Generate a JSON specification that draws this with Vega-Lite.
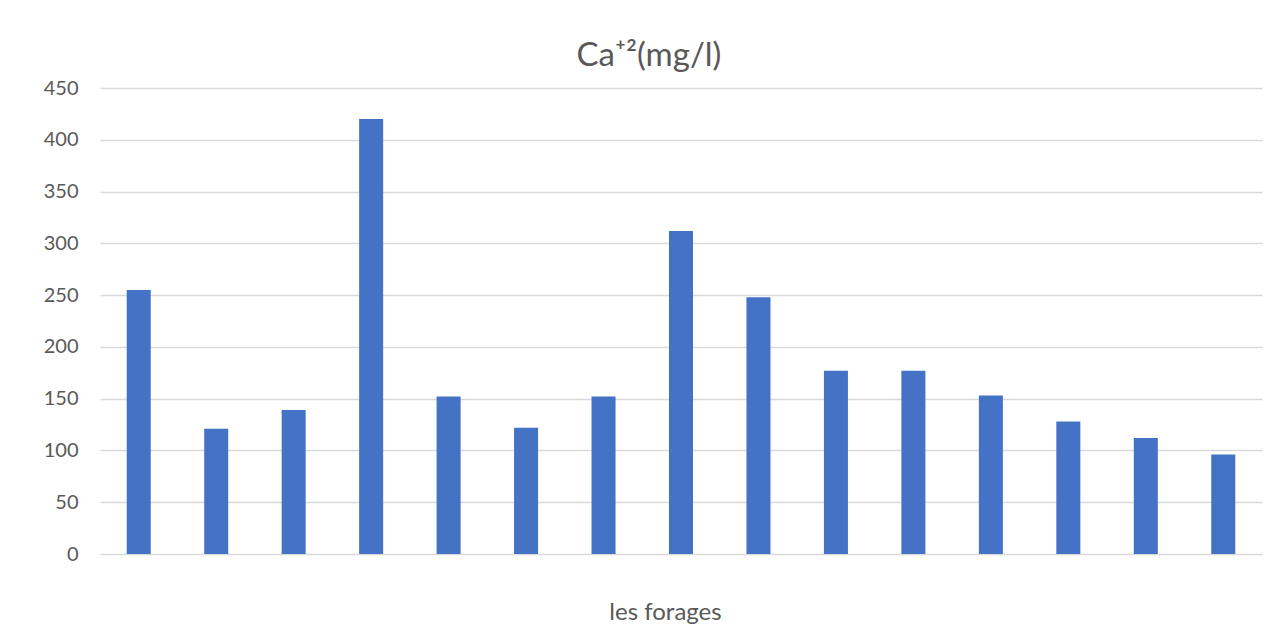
{
  "$schema": "https://vega.github.io/schema/vega-lite/v6.json",
  "autosize": {"type": "none"},
  "width": 1162,
  "height": 466,
  "padding": {"left": 100, "top": 88, "right": 19, "bottom": 71},
  "background": "white",
  "title": {
    "text": "Ca⁺²(mg/l)",
    "font": "Lato",
    "fontSize": 33,
    "fontWeight": "normal",
    "color": "#595959",
    "anchor": "middle",
    "dx": -32,
    "offset": 5
  },
  "data": {
    "values": [
      {"forage": "F1", "ca": 255},
      {"forage": "F2", "ca": 121},
      {"forage": "F3", "ca": 139},
      {"forage": "F4", "ca": 420},
      {"forage": "F5", "ca": 152},
      {"forage": "F6", "ca": 122},
      {"forage": "F7", "ca": 152},
      {"forage": "F8", "ca": 312},
      {"forage": "F9", "ca": 248},
      {"forage": "F10", "ca": 177},
      {"forage": "F11", "ca": 177},
      {"forage": "F12", "ca": 153},
      {"forage": "F13", "ca": 128},
      {"forage": "F14", "ca": 112},
      {"forage": "F15", "ca": 96}
    ]
  },
  "mark": {"type": "bar", "color": "#4472C4"},
  "encoding": {
    "x": {
      "field": "forage",
      "type": "nominal",
      "sort": null,
      "scale": {"paddingInner": 0.69, "paddingOuter": 0.345},
      "axis": {
        "labels": false,
        "ticks": false,
        "domain": false,
        "title": "les forages",
        "titleFont": "Lato",
        "titleFontSize": 24,
        "titleFontWeight": "normal",
        "titleColor": "#595959",
        "titleX": 565,
        "titlePadding": 46
      }
    },
    "y": {
      "field": "ca",
      "type": "quantitative",
      "scale": {"domain": [0, 450]},
      "axis": {
        "values": [0, 50, 100, 150, 200, 250, 300, 350, 400, 450],
        "title": null,
        "ticks": false,
        "domain": false,
        "labelFont": "Lato",
        "labelFontSize": 20,
        "labelColor": "#595959",
        "labelPadding": 22,
        "gridColor": "#D9D9D9",
        "gridWidth": 1.5
      }
    }
  },
  "config": {"view": {"stroke": null}}
}
